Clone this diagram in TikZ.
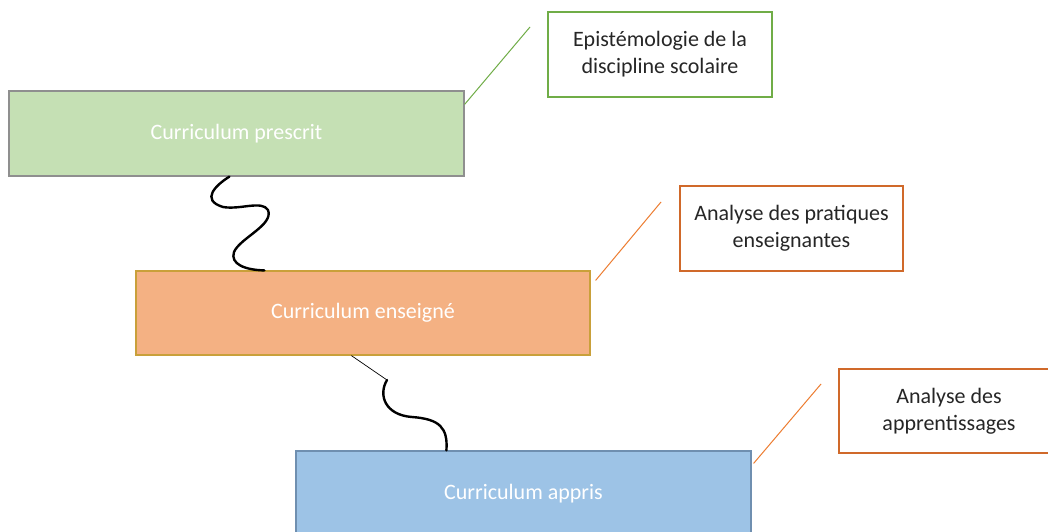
\documentclass[tikz,border=0pt]{standalone}
\usepackage{fontspec}
\setmainfont{Carlito}
\definecolor{gfill}{HTML}{C5E0B4}
\definecolor{gline}{HTML}{8F8F8F}
\definecolor{ofill}{HTML}{F4B183}
\definecolor{oline}{HTML}{C9A03A}
\definecolor{bfill}{HTML}{9DC3E6}
\definecolor{bline}{HTML}{6F8FB0}
\definecolor{cgreen}{HTML}{70AD47}
\definecolor{corange}{HTML}{D0692A}
\definecolor{lorange}{HTML}{ED7D31}
\tikzset{
  mainbox/.style={draw, line width=1.2pt, minimum width=455pt, minimum height=85pt, inner sep=0pt,
    text=white, font=\fontsize{22}{27}\selectfont},
  callout/.style={draw, fill=white, line width=1.2pt, minimum width=224pt, minimum height=85pt, inner sep=0pt,
    align=center, text=black!85, font=\fontsize{22}{27}\selectfont},
  wave/.style={line width=2.4pt, line cap=round, black},
}
\begin{document}
\begin{tikzpicture}[x=1pt,y=-1pt]
\useasboundingbox (0,0) rectangle (1048,531);
\clip (0,0) rectangle (1048,531);
\fill[white] (0,0) rectangle (1048,531);
% main boxes
\node[mainbox, fill=gfill, draw=gline] (g) at (236.5,133.5) {Curriculum prescrit};
\node[mainbox, fill=ofill, draw=oline, minimum height=84pt, minimum width=454pt] (o) at (363,313) {Curriculum enseigné};
\node[mainbox, fill=bfill, draw=bline] (b) at (523.5,493.5) {Curriculum appris};
% callouts
\node[callout, draw=cgreen] (c1) at (660,54.5) {Epistémologie de la\\discipline scolaire};
\node[callout, draw=corange, minimum width=223pt] (c2) at (791.5,228.5) {Analyse des pratiques\\enseignantes};
\node[callout, draw=corange, minimum width=220pt, minimum height=84pt] (c3) at (949,411) {Analyse des\\apprentissages};
% callout leader lines
\coordinate (e1) at (530,27);
\coordinate (e2) at (661,202);
\coordinate (e3) at (821,384);
\draw[cgreen, line width=1pt] ([yshift=-14pt]g.north east) -- (e1);
\draw[lorange, line width=1pt] ([xshift=5pt,yshift=-10pt]o.north east) -- (e2);
\draw[lorange, line width=1pt] ([xshift=2pt,yshift=-13pt]b.north east) -- (e3);
% wavy connectors
\draw[wave] ([xshift=221pt]g.south west) .. controls (216,185) and (200,200) .. (223,207)
  .. controls (240,210) and (262,200) .. (268,210)
  .. controls (274,225) and (240,238) .. (234,252)
  .. controls (230,264) and (245,270) .. ([xshift=129pt]o.north west);
\coordinate (k) at (387,380);
\draw[black, line width=0.7pt] ([xshift=216pt]o.south west) -- (k);
\draw[wave] (k) .. controls (378,395) and (385,415) .. (412,417)
  .. controls (440,419) and (448,428) .. ([xshift=151pt]b.north west);
\end{tikzpicture}
\end{document}
